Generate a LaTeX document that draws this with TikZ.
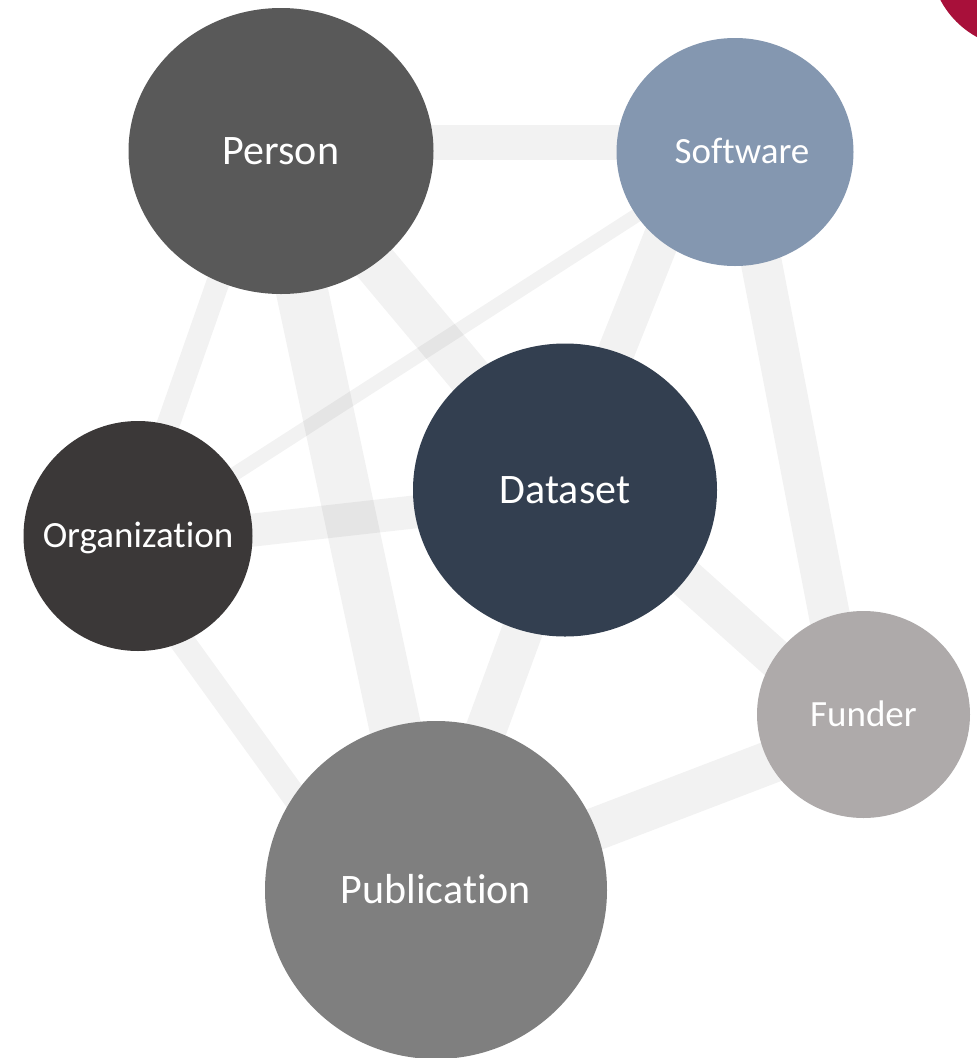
\documentclass[tikz,border=0pt]{standalone}
\usepackage{fontspec}
\setmainfont{Carlito}[Ligatures=NoCommon]
\usetikzlibrary{shapes.geometric,calc}
\pgfdeclarelayer{paper}
\pgfdeclarelayer{bg}
\pgfsetlayers{paper,bg,main}
\definecolor{cPerson}{HTML}{595959}
\definecolor{cSoftware}{HTML}{8497B0}
\definecolor{cDataset}{HTML}{333F50}
\definecolor{cOrg}{HTML}{3B3838}
\definecolor{cFunder}{HTML}{AEAAAA}
\definecolor{cPub}{HTML}{7F7F7F}
\definecolor{cRed}{RGB}{168,16,58}
\newcommand{\zw}[1]{\makebox[0pt]{#1}}
\begin{document}
\begin{tikzpicture}[x=1pt,y=-1pt,
  entity/.style={ellipse, inner sep=0pt, text=white},
  bigtext/.style={font=\fontsize{42}{50}\selectfont, text height=27pt, text depth=0pt},
  smalltext/.style={font=\fontsize{37}{44}\selectfont, text height=23.7pt, text depth=0pt},
  link/.style={draw=black, draw opacity=0.05, line cap=butt}]
\clip (0,0) rectangle (977,1058);
\begin{pgfonlayer}{paper}
\fill[white] (0,0) rectangle (977,1058);
\end{pgfonlayer}

\node[entity, bigtext, fill=cPerson, minimum width=305pt, minimum height=286pt] (P) at (281,151) {\zw{Person}};
\node[entity, smalltext, fill=cSoftware, minimum width=237pt, minimum height=228pt] (S) at (735,152) {\zw{\hspace*{14pt}Software}};
\node[entity, bigtext, fill=cDataset, minimum width=304pt, minimum height=293pt] (D) at (565,490) {\zw{Dataset}};
\node[entity, smalltext, fill=cOrg, minimum width=229pt, minimum height=230pt] (O) at (138,536) {\zw{Organization}};
\node[entity, smalltext, fill=cFunder, minimum width=213pt, minimum height=207pt] (F) at (863.5,714.5) {\zw{Funder}};
\node[entity, bigtext, fill=cPub, minimum width=342pt, minimum height=338pt] (Pub) at (436,890) {\zw{Publication}};

\fill[cRed] (1020,-42) circle (90);

\begin{pgfonlayer}{bg}
\draw[link, line width=35] ($(P.center)+(0,-9)$) -- ($(S.center)+(0,-10)$);
\draw[link, line width=23] ($(P.center)+(-17,0)$) -- ($(O.center)+(-9,0)$);
\draw[link, line width=52] ($(P.center)+(-9,0)$) -- ($(Pub.center)+(-6,0)$);
\draw[link, line width=44] (P.center) -- (D.center);
\draw[link, line width=14] (S.center) -- (O.center);
\draw[link, line width=37] ($(S.center)+(-39,0)$) -- ($(D.center)+(-4,0)$);
\draw[link, line width=41] ($(S.center)+(5,0)$) -- ($(F.center)+(-15,0)$);
\draw[link, line width=33] ($(O.center)+(0,7)$) -- ($(D.center)+(0,5)$);
\draw[link, line width=25] ($(O.center)+(-32,0)$) -- ($(Pub.center)+(-74,0)$);
\draw[link, line width=41] ($(D.center)+(9,0)$) -- ($(Pub.center)+(-9,0)$);
\draw[link, line width=39] ($(D.center)+(0,-20)$) -- ($(F.center)+(0,23)$);
\draw[link, line width=43] (Pub.center) -- ($(F.center)+(0,12)$);
\end{pgfonlayer}
\end{tikzpicture}
\end{document}
